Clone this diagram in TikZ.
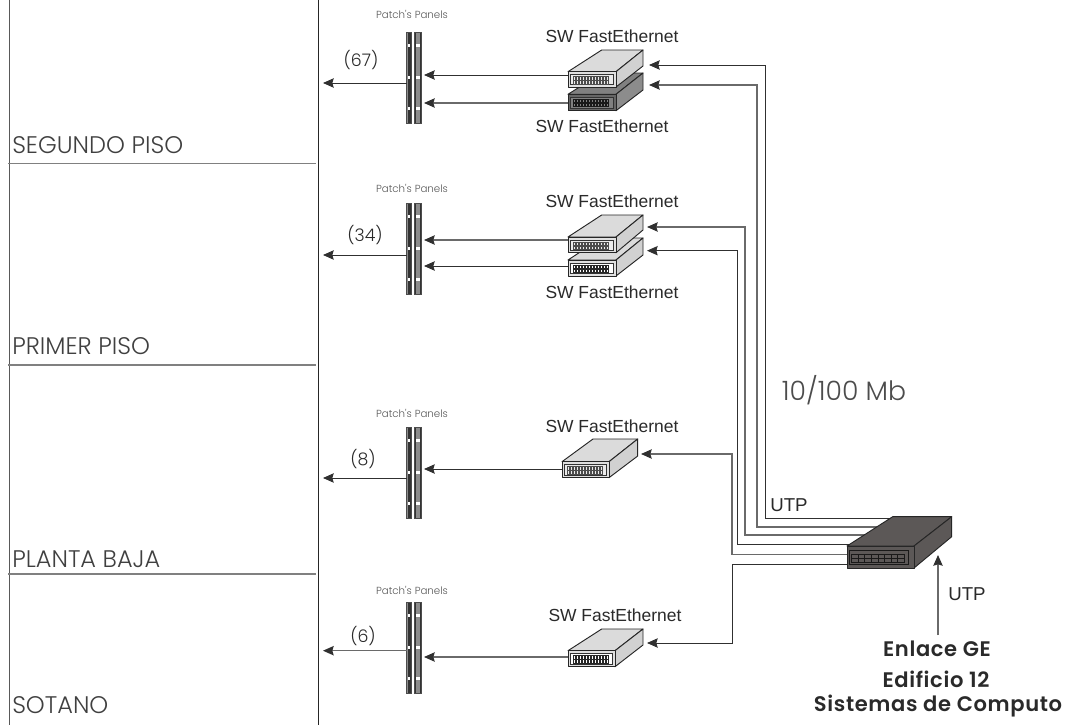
\documentclass[tikz,border=0pt]{standalone}
\usepackage{fontspec}
\usetikzlibrary{arrows.meta,calc}
\setmainfont{Liberation Sans}
\newfontfamily\geolight{Poppins Light}
\newfontfamily\geobold[LetterSpace=3]{Poppins SemiBold}
\definecolor{lnd}{HTML}{303030}
\definecolor{lng}{HTML}{6A6A6A}
\definecolor{txt}{HTML}{2A2A2A}
\definecolor{coregray}{HTML}{5C5857}
\tikzset{
  wire/.style={draw=lnd,line width=0.7pt},
  wireg/.style={draw=lng,line width=1pt},
  tipped/.style={-{Stealth[length=8pt,width=7pt,inset=1pt,color=lnd,fill=lnd]}},
  floorlabel/.style={anchor=base west,inner sep=0,text=black!75,font=\geolight\fontsize{18}{20}\selectfont},
  swlabel/.style={inner sep=0,text=txt,font=\fontsize{13.1}{15}\selectfont},
  utplabel/.style={inner sep=0,text=txt,font=\fontsize{14}{16}\selectfont},
  pplabel/.style={inner sep=0,text=black!65,font=\geolight\fontsize{7.7}{9}\selectfont},
  countlabel/.style={inner sep=0,text=txt,font=\geolight\fontsize{13}{15}\selectfont},
  biglabel/.style={inner sep=0,text=txt,font=\geobold\fontsize{15.8}{18}\selectfont},
  speedlabel/.style={inner sep=0,text=black!70,font=\geolight\fontsize{20}{22}\selectfont},
  boxedge/.style={draw=black!85,line width=0.7pt,line join=round},
  panelnode/.style={inner sep=0,minimum width=11.2pt,minimum height=68.5pt},
}
\newcommand{\swbox}[9]{%
  \def\swTop{#6}%
  \swboxii{#1}{#2}{#3}{#4}{#5}{#7}{#8}{#9}{\swTop}}
\newcommand{\swboxii}[9]{%
  % 1 name 2 L 3 T 4 R 5 B 6 backR 7 backT 8 sideB 9 backL
  \path[boxedge,fill=\swtopcol] (#2,#3) -- (#9,#7) -- (#6,#7) -- (#4,#3) -- cycle;
  \path[boxedge,fill=\swsidecol] (#4,#3) -- (#6,#7) -- (#6,#8) -- (#4,#5) -- cycle;
  \path[boxedge,fill=\swfrontcol] (#2,#3) rectangle (#4,#5);
  \path[draw=black!80,line width=0.45pt,fill=\swinnercol] ($(#2,#3)+(2.5,3)$) rectangle ($(#4,#5)+(-3,-2.5)$);
  \foreach \px in {0,1,...,11}{
    \path[draw=\swportcol,line width=0.4pt] ($(#2,#3)+(5+3*\px,5)$) rectangle ++(2.6,3.2);
    \path[draw=\swportcol,line width=0.4pt] ($(#2,#3)+(5+3*\px,9)$) rectangle ++(2.6,3.2);
  }
  \node[inner sep=0,minimum size=0pt] (#1) at ($(#2,#3)!0.5!(#4,#5)$) {};
}
\newcommand{\swcolors}[5]{\def\swtopcol{#1}\def\swsidecol{#2}\def\swfrontcol{#3}\def\swinnercol{#4}\def\swportcol{#5}}
\newcommand{\panelbars}[1]{% top y
  \begin{scope}[shift={(0,#1)}]
    \path[draw=black!70,line width=0.4pt,fill=black!45] (406.7,0) rectangle (411.7,91);
    \path[fill=black!80] (408.2,0.5) rectangle (410.7,90.5);
    \path[draw=black!70,line width=0.4pt,fill=black!45] (414.3,0) rectangle (421.7,91);
    \path[fill=black!80] (414.6,0.5) rectangle (416,90.5);
    \path[fill=black!80] (420,0.5) rectangle (421.4,90.5);
    \foreach \my in {13,45,76}{
      \path[fill=white] (408.2,\my-1.5) rectangle (410.2,\my+1.5);
      \path[fill=white] (416.2,\my-1.5) rectangle (419.8,\my+1.5);
    }
  \end{scope}
}
\begin{document}
\begin{tikzpicture}[x=0.75pt,y=-0.75pt]
\useasboundingbox[fill=white] (0,0) rectangle (1072,725);
% building
\coordinate (walltl) at (9.5,0);
\coordinate (walltr) at (318.5,0);
\coordinate (wallbl) at (9.5,725);
\coordinate (wallbr) at (318.5,725);
\draw[draw=black!65,line width=0.8pt] (walltl) -- (wallbl);
\draw[draw=black!85,line width=0.7pt] (walltr) -- (wallbr);
\coordinate (f1l) at (8,163.7);\coordinate (f1r) at (316,163.7);
\coordinate (f2l) at (8,365);\coordinate (f2r) at (316,365);
\coordinate (f3l) at (8,574);\coordinate (f3r) at (316,574);
\draw[draw=black!50,line width=0.8pt] (f1l) -- (f1r);
\draw[draw=black!50,line width=0.8pt] (f2l) -- (f2r);
\draw[draw=black!50,line width=0.8pt] (f3l) -- (f3r);
\node[floorlabel] (lf1) at (12,153) {SEGUNDO PISO};
\node[floorlabel] (lf2) at (12,354) {PRIMER PISO};
\node[floorlabel] (lf3) at (12,567) {PLANTA BAJA};
\node[floorlabel] (lf4) at (12,713) {SOTANO};
% panels
\panelbars{32}
\panelbars{203}
\panelbars{427}
\panelbars{602}
\node[panelnode] (pp1) at (414.2,77.5) {};
\node[panelnode] (pp2) at (414.2,248.5) {};
\node[panelnode] (pp3) at (414.2,472.5) {};
\node[panelnode] (pp4) at (414.2,647.5) {};
\node[pplabel] (ppl1) at (412,14) {Patch's Panels};
\node[pplabel] (ppl2) at (412,188) {Patch's Panels};
\node[pplabel] (ppl3) at (412,413) {Patch's Panels};
\node[pplabel] (ppl4) at (412,590) {Patch's Panels};
% outlet arrows towards the floors
\coordinate (o1) at (323,83);\coordinate (o1s) at (406.7,83);
\coordinate (o2) at (323,255);\coordinate (o2s) at (406.7,255);
\coordinate (o3) at (323,478);\coordinate (o3s) at (406.7,478);
\coordinate (o4) at (323,650.7);\coordinate (o4s) at (406.7,650.7);
\draw[wire,tipped] (o1s) -- (o1);
\draw[wire,tipped] (o2s) -- (o2);
\draw[wire,tipped] (o3s) -- (o3);
\draw[wireg,tipped] (o4s) -- (o4);
\node[countlabel] (n1) at (361,60) {(67)};
\node[countlabel] (n2) at (365,235) {(34)};
\node[countlabel] (n3) at (363,459) {(8)};
\node[countlabel] (n4) at (363,636) {(6)};
% panel arrows
\coordinate (s1a) at (568,75);\coordinate (q1a) at (424,75);
\coordinate (s1b) at (568,103);\coordinate (q1b) at (424,103);
\coordinate (s2a) at (568,240);\coordinate (q2a) at (424,240);
\coordinate (s2b) at (568,266);\coordinate (q2b) at (424,266);
\coordinate (s3) at (562,469);\coordinate (q3) at (424,469);
\coordinate (s4) at (568,657);\coordinate (q4) at (424,657);
\draw[wire,tipped] (s1a) -- (q1a);
\draw[wireg,tipped] (s1b) -- (q1b);
\draw[wireg,tipped] (s2a) -- (q2a);
\draw[wire,tipped] (s2b) -- (q2b);
\draw[wire,tipped] (s3) -- (q3);
\draw[wireg,tipped] (s4) -- (q4);
% uplinks
\coordinate (c1) at (895,518.7);\coordinate (v1) at (765,518.7);\coordinate (a1) at (649,65);
\coordinate (c2) at (880,527);\coordinate (v2) at (757,527);\coordinate (a2) at (649,85);
\coordinate (c3) at (865,535);\coordinate (v3) at (745,535);\coordinate (a3) at (647,227);
\coordinate (c4) at (850,544.7);\coordinate (v4) at (737.5,544.7);\coordinate (a4) at (647,250.7);
\coordinate (c5) at (850,554.7);\coordinate (v5) at (732,554.7);\coordinate (a5) at (641,454);
\coordinate (c6) at (850,564.7);\coordinate (v6) at (732,564.7);\coordinate (a6) at (647,643);
\draw[wire,tipped] (c1) -- (v1) -- (v1 |- a1) -- (a1);
\draw[wireg,tipped] (c2) -- (v2) -- (v2 |- a2) -- (a2);
\draw[wireg,tipped] (c3) -- (v3) -- (v3 |- a3) -- (a3);
\draw[wire,tipped] (c4) -- (v4) -- (v4 |- a4) -- (a4);
\draw[wireg,tipped] (c5) -- (v5) -- (v5 |- a5) -- (a5);
\draw[wire,tipped] (c6) -- (v6) -- (v6 |- a6) -- (a6);
% switches
\swcolors{black!50}{black!45}{black!60}{black!50}{black!90}
\swbox{sw1b}{568}{94.3}{616}{110.7}{601.7}{643}{73}{90}
\swcolors{black!14}{black!18}{black!12}{black!8}{black!70}
\swbox{sw1a}{568}{71.7}{616}{87}{601.7}{643}{50}{66}
\swcolors{black!14}{black!18}{black!12}{white}{black!85}
\swbox{sw2b}{568}{260}{616}{276}{601.7}{643}{238}{255}
\swcolors{black!14}{black!18}{black!12}{black!8}{black!70}
\swbox{sw2a}{568}{237}{616}{252.7}{601.7}{643}{215}{230}
\swbox{sw3}{562}{461.7}{609}{477.7}{593}{637.7}{439}{456}
\swcolors{black!14}{black!18}{black!12}{white}{black!85}
\swbox{sw4}{568}{650.7}{615}{666.7}{601.7}{643}{629}{645}
% core switch
\path[boxedge,fill=coregray] (847,546) -- (892.7,516.7) -- (951.7,516.7) -- (914,546) -- cycle;
\path[boxedge,fill=coregray] (914,546) -- (951.7,516.7) -- (951.7,536.7) -- (914,568) -- cycle;
\path[boxedge,fill=coregray] (847,546) rectangle (914,568);
\path[draw=black!90,line width=0.5pt] (849,550) rectangle (908.5,564);
\foreach \px in {0,...,7}{
  \path[draw=black!90,line width=0.4pt] (851.5+6.6*\px,554) rectangle ++(6.6,8);
  \path[draw=black!90,line width=0.4pt] (851.5+6.6*\px,558) -- ++(6.6,0);
}
\node[inner sep=0] (core) at (880.5,557) {};
% incoming
\coordinate (in) at (938,635);\coordinate (intip) at (938,555);
\draw[wireg,tipped] (in) -- (intip);
% labels
\node[swlabel] (t1a) at (612,36) {SW FastEthernet};
\node[swlabel] (t1b) at (602,126) {SW FastEthernet};
\node[swlabel] (t2a) at (612,201) {SW FastEthernet};
\node[swlabel] (t2b) at (612,292) {SW FastEthernet};
\node[swlabel] (t3) at (612,426) {SW FastEthernet};
\node[swlabel] (t4) at (615,615) {SW FastEthernet};
\node[utplabel] (utp1) at (789,505) {UTP};
\node[utplabel] (utp2) at (967,594) {UTP};
\node[speedlabel] (speed) at (844,390) {10/100 Mb};
\node[biglabel] (e1) at (937,649) {Enlace GE};
\node[biglabel] (e2) at (936,679) {Edificio 12};
\node[biglabel] (e3) at (938,706) {Sistemas de Computo};
\end{tikzpicture}
\end{document}
